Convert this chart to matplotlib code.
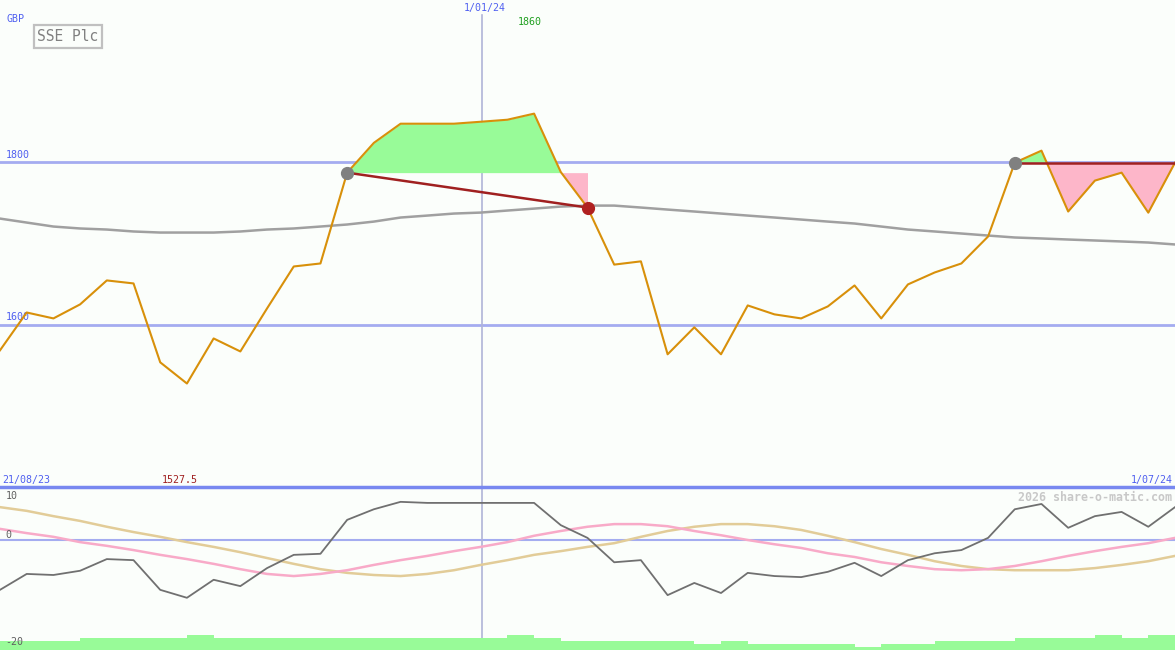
import matplotlib.pyplot as plt
import numpy as np

# weekly closing prices (GBp), 21/08/23 .. 1/07/24
price = [1568.4, 1615.0, 1607.7, 1625.0, 1654.5, 1650.8, 1553.6, 1527.5, 1583.0, 1567.0,
         1620.0, 1671.7, 1675.4, 1787.3, 1824.0, 1847.6, 1847.6, 1847.6, 1850.0, 1852.5,
         1860.0, 1788.0, 1744.3, 1674.0, 1678.0, 1563.5, 1596.7, 1563.5, 1623.7, 1612.7,
         1607.7, 1622.5, 1648.3, 1607.7, 1649.6, 1664.3, 1675.4, 1708.6, 1799.6, 1814.4,
         1739.4, 1777.5, 1787.3, 1738.0, 1799.6]
mavg = [1730.7, 1725.8, 1720.9, 1718.5, 1717.2, 1714.8, 1713.5, 1713.5, 1713.5, 1714.8,
        1717.2, 1718.5, 1720.9, 1723.4, 1727.0, 1732.0, 1734.4, 1736.9, 1738.1, 1740.6,
        1743.0, 1745.5, 1746.7, 1746.7, 1744.3, 1741.8, 1739.4, 1736.9, 1734.4, 1732.0,
        1729.5, 1727.0, 1724.6, 1720.9, 1717.2, 1714.8, 1712.3, 1709.8, 1707.4, 1706.2,
        1704.9, 1703.7, 1702.5, 1701.2, 1698.8]
# lower panel indicators
osc = [-9.4, -6.4, -6.6, -5.8, -3.6, -3.8, -9.4, -10.9, -7.5, -8.7,
       -5.3, -2.8, -2.6, 3.8, 5.8, 7.2, 7.0, 7.0, 7.0, 7.0,
       7.0, 2.8, 0.4, -4.2, -3.8, -10.4, -8.1, -10.0, -6.2, -6.8,
       -7.0, -6.0, -4.3, -6.8, -3.8, -2.5, -1.9, 0.4, 5.8, 6.8,
       2.3, 4.5, 5.3, 2.5, 6.2]
pink_ind = [2.1, 1.3, 0.6, -0.4, -1.1, -1.9, -2.8, -3.6, -4.5, -5.5,
            -6.4, -6.8, -6.4, -5.7, -4.7, -3.8, -3.0, -2.1, -1.3, -0.4,
            0.8, 1.7, 2.5, 3.0, 3.0, 2.6, 1.7, 0.9, 0.0, -0.8,
            -1.5, -2.5, -3.2, -4.2, -4.9, -5.5, -5.7, -5.5, -4.9, -4.0,
            -3.0, -2.1, -1.3, -0.6, 0.4]
tan_ind = [6.2, 5.5, 4.5, 3.6, 2.5, 1.5, 0.6, -0.4, -1.3, -2.3,
           -3.4, -4.5, -5.5, -6.2, -6.6, -6.8, -6.4, -5.7, -4.7, -3.8,
           -2.8, -2.1, -1.3, -0.6, 0.6, 1.7, 2.5, 3.0, 3.0, 2.6,
           1.9, 0.8, -0.4, -1.7, -2.8, -4.0, -4.9, -5.5, -5.7, -5.7,
           -5.7, -5.3, -4.7, -4.0, -3.0]
volume = [3, 3, 3, 4, 4, 4, 4, 5, 4, 4, 4, 4, 4, 4, 4, 4, 4, 4, 4, 5, 4, 3,
          3, 3, 3, 3, 2, 3, 2, 2, 2, 2, 1, 2, 2, 3, 3, 3, 4, 4, 4, 5, 4, 5]

trades = [(13, 22, True), (38, 44, False)]  # (buy index, last index, closed)
x = np.arange(len(price))
price = np.array(price)

bg = '#fbfefb'
blue_txt = '#5060f0'
hline_col = '#a4acf0'
mono = 'DejaVu Sans Mono'

fig = plt.figure(figsize=(11.75, 6.5), dpi=100, facecolor=bg)
ax = fig.add_axes([0, 163 / 650, 1, 487 / 650], facecolor=bg)
ax2 = fig.add_axes([0, 0, 1, 163 / 650], facecolor=bg)

# ---- main panel
ax.set_xlim(0, 44)
ax.set_ylim(1400, 2000)
for lev in (1600, 1800):
    ax.axhline(lev, color=hline_col, lw=2, zorder=1)
    ax.text(0.2, lev + 3, str(lev), color=blue_txt,
            fontsize=7.2, family=mono, va='bottom', ha='left')
ax.axvline(18.04, color='#b0b4d8', lw=1.2, ymax=0.97, zorder=1)
ax.plot(x, mavg, color='#a0a0a0', lw=1.8, zorder=2)

for b, e, closed in trades:
    seg = x[b:e + 1]
    lev = price[b]
    ax.fill_between(seg, price[b:e + 1], lev, where=price[b:e + 1] >= lev,
                    interpolate=True, color='#98fb98', lw=0, zorder=2)
    ax.fill_between(seg, price[b:e + 1], lev, where=price[b:e + 1] < lev,
                    interpolate=True, color='#fdb6c9', lw=0, zorder=2)

ax.plot(x, price, color='#d8900a', lw=1.5, zorder=3)
for b, e, closed in trades:
    ax.plot([b, e], [price[b], price[e]], color='#a02020', lw=1.8, zorder=4)
    ax.plot(b, price[b], 'o', color='#808080', ms=8.5, zorder=5)
    if closed:
        ax.plot(e, price[e], 'o', color='#b02020', ms=8.5, zorder=5)

imax = int(np.argmax(price))
imin = int(np.argmin(price))
ax.text(imax - 0.15, 2000 - 27, '%d' % price[imax], color='#20a020', fontsize=7.2,
        family=mono, ha='center', va='center')
ax.text(18.15, 2000 - 9.5, '1/01/24', color=blue_txt, fontsize=7.2,
        family=mono, ha='center', va='center')
ax.text(0.25, 2000 - 24, 'GBP', color=blue_txt, fontsize=7.2, family=mono,
        ha='left', va='center')
ax.text(0.1, 1400 + 9, '21/08/23', color=blue_txt, fontsize=7.2, family=mono,
        ha='left', va='center')
ax.text(imin - 0.25, 1400 + 9, '%.1f' % price[imin], color='#a02020',
        fontsize=7.2, family=mono, ha='center', va='center')
ax.text(43.9, 1400 + 9, '1/07/24', color=blue_txt, fontsize=7.2, family=mono,
        ha='right', va='center')
ax.text(2.55, 2000 - 45, 'SSE Plc', color='#808080', fontsize=10.5, family=mono,
        ha='center', va='center',
        bbox=dict(boxstyle='square,pad=0.25', fc=bg, ec='#c0c0c0', lw=1.6))

# ---- lower panel
ax2.set_xlim(0, 44)
ax2.set_ylim(-20.75, 10)
ax2.axhline(0, color=hline_col, lw=1.5, zorder=1)
ax2.axvline(18.04, color='#b0b4d8', lw=1.2, zorder=1)
ax2.plot(x, tan_ind, color='#e2cc98', lw=1.8, zorder=2)
ax2.plot(x, pink_ind, color='#f8aac8', lw=1.8, zorder=2)
ax2.plot(x, osc, color='#707070', lw=1.3, zorder=3)

axv = ax2.twinx()
axv.set_ylim(0, 163 / 3)
axv.bar(np.arange(len(volume)), volume, width=1.0, align='edge',
        color='#98fb98', lw=0, zorder=4)

# axis labels drawn over the volume bars
for val, lab in ((8.3, '10'), (1.0, '0'), (-19.2, '-20')):
    axv.text(0.2, val, lab, color='#606060', fontsize=7.2, family=mono,
             va='center', transform=ax2.transData, zorder=7)
axv.text(43.9, 8.1, '2026 share-o-matic.com', color='#c8c8c8', fontsize=8.4,
         family=mono, weight='bold', ha='right', va='center',
         transform=ax2.transData, zorder=7)

# separator line between panels
ax2.axhline(10, color='#7888f0', lw=2.5, zorder=6, clip_on=False)

for a in (ax, ax2, axv):
    a.set_xticks([])
    a.set_yticks([])
    for s in a.spines.values():
        s.set_visible(False)

fig.savefig('out.png', dpi=100, facecolor=bg)
